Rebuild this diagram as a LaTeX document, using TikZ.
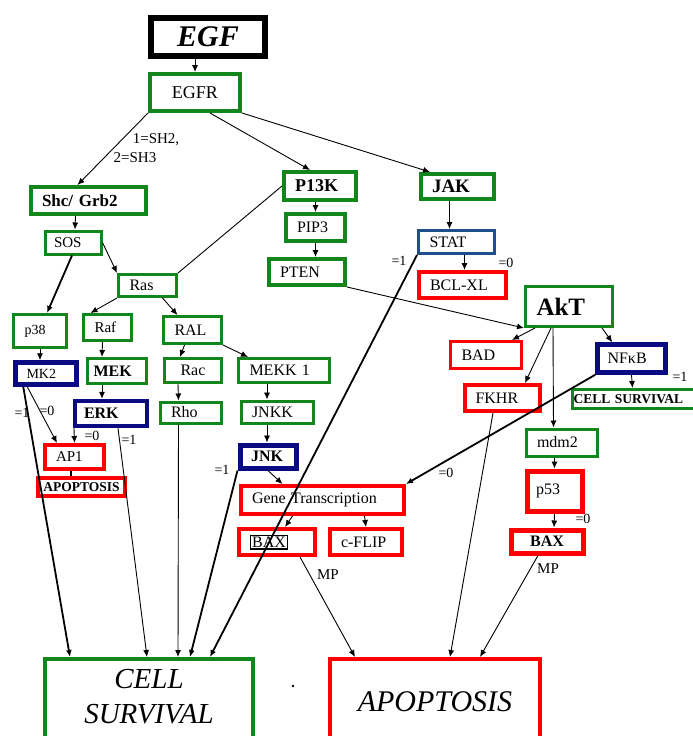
\documentclass[tikz,border=0pt]{standalone}
\usepackage{fontspec}
\setmainfont{Liberation Serif}
\usepackage{xcolor}
\definecolor{dnluc}{HTML}{12861A}
\definecolor{dnson}{HTML}{FF0000}
\definecolor{dncham}{HTML}{0A0A82}
\definecolor{dnlam}{HTML}{1F4E8C}
\def\maumuiten{black}
\usepackage{tikz}
\usetikzlibrary{arrows.meta,positioning,calc}

\begin{document}
\begin{tikzpicture}[x=1pt,y=-1pt]
		\tikzset{
			hop/.style={draw,rectangle,inner xsep=11pt,inner ysep=0pt,align=left,font=\fontsize{16}{18}\selectfont},
			hopluc/.style={hop,draw=dnluc,line width=3pt},
			hopson/.style={hop,draw=dnson,line width=4pt},
			hopcham/.style={hop,draw=dncham,line width=4.5pt},
			nhan/.style={inner sep=0pt,font=\fontsize{14}{16}\selectfont},
			muiten/.style={-{Latex[length=7pt,width=6pt]},line width=0.9pt,draw=\maumuiten},
			muitenday/.style={muiten,line width=1.8pt}
		}
		\useasboundingbox (0,0) rectangle (693,736);
		%% hang tren
		\node[hop,draw=black,line width=6pt,minimum width=114pt,minimum height=38pt,align=center,font=\fontsize{30}{32}\selectfont\bfseries\itshape] (egf) at (208,37) {EGF};
		\node[hopluc,line width=4pt,minimum width=90pt,minimum height=37pt,align=center,font=\fontsize{18}{20}\selectfont] (egfr) at (195,92.5) {EGFR};
		\node[hopluc,line width=4pt,text width=93pt,minimum height=27pt,font=\fontsize{17}{19}\selectfont\bfseries] (shc) at (88.5,200.5) {Shc/ Grb2};
		\node[hopluc,line width=4pt,text width=50pt,minimum height=28pt,font=\fontsize{18}{20}\selectfont\bfseries] (p13k) at (320,186) {P13K};
		\node[hopluc,line width=4pt,text width=51pt,minimum height=25pt,font=\fontsize{19}{21}\selectfont\bfseries] (jak) at (457.5,186.5) {JAK};
		\node[hopluc,inner xsep=9pt,text width=38pt,minimum height=23pt,font=\fontsize{15}{17}\selectfont] (sos) at (73,242.5) {SOS};
		\node[hopluc,line width=4pt,text width=37pt,minimum height=27pt] (pip3) at (315.5,227.5) {PIP3};
		\node[hop,draw=dnlam,line width=3pt,text width=54pt,minimum height=23pt] (stat) at (456.5,242) {STAT};
		\node[hopluc,line width=4pt,text width=54pt,minimum height=26pt] (pten) at (307,272) {PTEN};
		\node[hopluc,text width=36pt,minimum height=22pt] (ras) at (147.5,285.5) {Ras};
		\node[hopson,text width=65pt,minimum height=26pt] (bclxl) at (462.5,285) {BCL-XL};
		\node[hopluc,text width=65pt,minimum height=40pt,font=\fontsize{25}{27}\selectfont\bfseries] (akt) at (569,306.5) {AkT};
		%% hang giua
		\node[hopluc,text width=31pt,minimum height=33pt,font=\fontsize{14}{16}\selectfont] (p38) at (40,331) {p38};
		\node[hopluc,text width=26pt,minimum height=26pt,font=\fontsize{15}{17}\selectfont] (raf) at (107.5,327.5) {Raf};
		\node[hopluc,text width=36pt,minimum height=27pt] (ral) at (192.5,330) {RAL};
		\node[hopson,line width=3pt,text width=49pt,minimum height=27pt] (bad) at (486,355) {BAD};
		\node[hopcham,inner xsep=10pt,text width=48pt,minimum height=28pt] (nfkb) at (631.5,358.5) {NFκB};
		\node[hopcham,text width=39pt,minimum height=22pt,font=\fontsize{14}{16}\selectfont] (mk2) at (46,373.5) {MK2};
		\node[hopluc,inner xsep=6pt,text width=47pt,minimum height=25pt,font=\fontsize{16}{18}\selectfont\bfseries] (mek) at (117,371) {MEK};
		\node[hopluc,minimum width=57pt,minimum height=24pt,align=center] (rac) at (193,370.5) {Rac};
		\node[hopluc,text width=69pt,minimum height=24pt] (mekk) at (284,370.5) {MEKK 1};
		\node[hopson,text width=53pt,minimum height=26pt] (fkhr) at (502,398) {FKHR};
		\node[hopluc,inner xsep=1pt,text width=124pt,minimum height=19pt,font=\fontsize{13.5}{15}\selectfont\bfseries] (csnho) at (635.5,399) {CELL SURVIVAL};
		\node[hopcham,inner xsep=9pt,text width=54pt,minimum height=25pt,font=\fontsize{16}{18}\selectfont\bfseries] (erk) at (111,413.5) {ERK};
		\node[hopluc,text width=39pt,minimum height=21pt] (rho) at (190.5,412.5) {Rho};
		\node[hopluc,text width=50pt,minimum height=22pt] (jnkk) at (277,412) {JNKK};
		\node[hopluc,text width=49pt,minimum height=27pt] (mdm2) at (561.5,442.5) {mdm2};
		%% hang duoi
		\node[hopson,text width=37pt,minimum height=24pt,font=\fontsize{15}{17}\selectfont] (ap1) at (74.5,457) {AP1};
		\node[hopcham,line width=5pt,text width=34pt,minimum height=23pt,font=\fontsize{16}{18}\selectfont\bfseries] (jnk) at (268,456.5) {JNK};
		\node[hopson,line width=5pt,inner xsep=9pt,text width=37pt,minimum height=40pt] (p53) at (554.5,491) {p53};
		\node[hopson,inner xsep=0pt,minimum width=87pt,minimum height=18pt,align=center,font=\fontsize{13.5}{15}\selectfont\bfseries] (aposmall) at (81.5,487) {APOPTOSIS};
		\node[hopson,text width=141pt,minimum height=28pt] (gene) at (322.5,500) {Gene Transcription};
		\node[hopson,text width=54pt,minimum height=26pt] (bax1) at (277,542) {\setlength\fboxsep{1pt}\setlength\fboxrule{1.2pt}\fbox{BAX}};
		\node[hopson,text width=50pt,minimum height=26pt] (cflip) at (366,542) {c-FLIP};
		\node[hopson,line width=5pt,minimum width=72pt,minimum height=23pt,align=center,font=\fontsize{16}{18}\selectfont\bfseries] (bax2) at (547,541.5) {BAX};
		\node[hopluc,line width=4pt,anchor=north,inner sep=0pt,font=\fontsize{29}{35}\selectfont\itshape] (cs) at (149,657) {\parbox[c][110pt][t]{208pt}{\centering\vspace*{10pt}CELL\\SURVIVAL}};
		\node[hopson,anchor=north,inner sep=0pt,font=\fontsize{30}{36}\selectfont\itshape] (apo) at (435,657) {\parbox[c][110pt][t]{210pt}{\centering\vspace*{33pt}APOPTOSIS}};
		\fill (293,686) circle (1.3pt);
		%% nhan
		\node[nhan,font=\fontsize{15}{17}\selectfont] (sh2) at (156,140) {1=SH2,};
		\node[nhan,font=\fontsize{15}{17}\selectfont] (sh3) at (135,158) {2=SH3};
		\node[nhan] (l1) at (22,413) {=1};
		\node[nhan] (l2) at (47,411) {=0};
		\node[nhan] (l3) at (92,436) {=0};
		\node[nhan] (l4) at (129,440) {=1};
		\node[nhan] (l5) at (222,470) {=1};
		\node[nhan] (l6) at (399,261) {=1};
		\node[nhan] (l7) at (506,263) {=0};
		\node[nhan] (l8) at (680,377) {=1};
		\node[nhan] (l9) at (446,473) {=0};
		\node[nhan] (l10) at (583,519) {=0};
		\node[nhan,font=\fontsize{15}{17}\selectfont] (mp1) at (328,575) {MP};
		\node[nhan,font=\fontsize{15}{17}\selectfont] (mp2) at (548,569) {MP};
		%% mui ten
		\draw[muiten] (egf.south -| egfr.north) -- (egfr.north);
		\draw[muiten] (egfr.south west) -- ([xshift=-11pt]shc.north);
		\draw[muiten] ([xshift=15pt]egfr.south) -- ([xshift=-10pt]p13k.north);
		\draw[muiten] (egfr.south east) -- ([xshift=11pt]jak.north west);
		\draw[line width=0.9pt] (p13k.west) -- (ras.north east);
		\draw[muiten] (p13k.south -| pip3.north) -- (pip3.north);
		\draw[muiten] (pip3.south) -- (pip3.south |- pten.north);
		\draw[muiten] (pten.south east) -- (akt.south west);
		\draw[muiten] ([xshift=-8pt]jak.south) -- ([xshift=-7pt]stat.north);
		\draw[muiten] ([xshift=8pt]stat.south) -- ([xshift=2pt]bclxl.north);
		\draw[muitenday] (stat.south west) -- ([xshift=61pt]cs.north);
		\draw[muiten] ([xshift=-13pt]shc.south) -- ([xshift=2pt]sos.north);
		\draw[muiten] (sos.east) -- (ras.north west);
		\draw[muitenday] ([xshift=-1pt]sos.south) -- ([xshift=7pt]p38.north);
		\draw[muiten] (ras.south west) -- ([xshift=-17pt]raf.north);
		\draw[muiten] ([xshift=15pt]ras.south) -- ([xshift=-15pt]ral.north);
		\draw[muiten] (p38.south) -- ([xshift=-6pt]mk2.north);
		\draw[muiten] ([xshift=-5pt]raf.south) -- ([xshift=-15pt]mek.north);
		\draw[muiten] ([xshift=-15pt]mek.south) -- ([xshift=-9pt]erk.north);
		\draw[muiten] ([xshift=-8pt]ral.south) -- ([xshift=-13pt]rac.north);
		\draw[muiten] (ral.south east) -- ([xshift=11pt]mekk.north west);
		\draw[muiten] ([xshift=-15pt]rac.south) -- ([xshift=-12pt]rho.north);
		\draw[muiten] ([xshift=-17pt]mekk.south) -- ([xshift=-10pt]jnkk.north);
		\draw[muiten] ([xshift=-10pt]jnkk.south) -- ([xshift=-1pt]jnk.north);
		\draw[muiten] ([xshift=14pt]mk2.south west) -- ([xshift=14pt]ap1.north west);
		\draw[muitenday] ([xshift=10pt]mk2.south west) -- ([xshift=27pt]cs.north west);
		\draw[muiten] ([xshift=-37pt]erk.south) -- (ap1.north);
		\draw[muiten] ([xshift=7pt]erk.south) -- ([xshift=-2pt]cs.north);
		\draw[line width=2pt] ([xshift=-4pt]ap1.south) -- ([xshift=-11pt]aposmall.north);
		\draw[muiten] ([xshift=-12pt]rho.south) -- ([xshift=29pt]cs.north);
		\draw[muiten] (jnk.south) -- ([xshift=-40pt]gene.north);
		\draw[muitenday] (jnk.south west) -- ([xshift=41pt]cs.north);
		\draw[muiten] ([xshift=-30pt]gene.south) -- ([xshift=8pt]bax1.north);
		\draw[muiten] ([xshift=42pt]gene.south) -- (cflip.north);
		\draw[muiten] ([xshift=23pt]bax1.south) -- ([xshift=-80pt]apo.north);
		\draw[muiten] ([xshift=11pt]akt.south west) -- ([xshift=26pt]bad.north);
		\draw[muiten] ([xshift=-18pt]akt.south) -- ([xshift=23pt]fkhr.north);
		\draw[muiten] ([xshift=-16pt]akt.south) -- ([xshift=-8pt]mdm2.north);
		\draw[muiten] ([xshift=-12pt]akt.south east) -- ([xshift=17pt]nfkb.north west);
		\draw[muiten] (nfkb.south) -- ([xshift=-3pt]csnho.north);
		\draw[muitenday] (nfkb.south west) -- (gene.north east);
		\draw[muiten] ([xshift=-7pt]mdm2.south) -- (p53.north);
		\draw[muiten] (p53.south) -- ([xshift=7pt]bax2.north);
		\draw[muiten] ([xshift=-9pt]bax2.south) -- ([xshift=45pt]apo.north);
		\draw[muiten] ([xshift=-9pt]fkhr.south) -- ([xshift=15pt]apo.north);
	\end{tikzpicture}
\end{document}
